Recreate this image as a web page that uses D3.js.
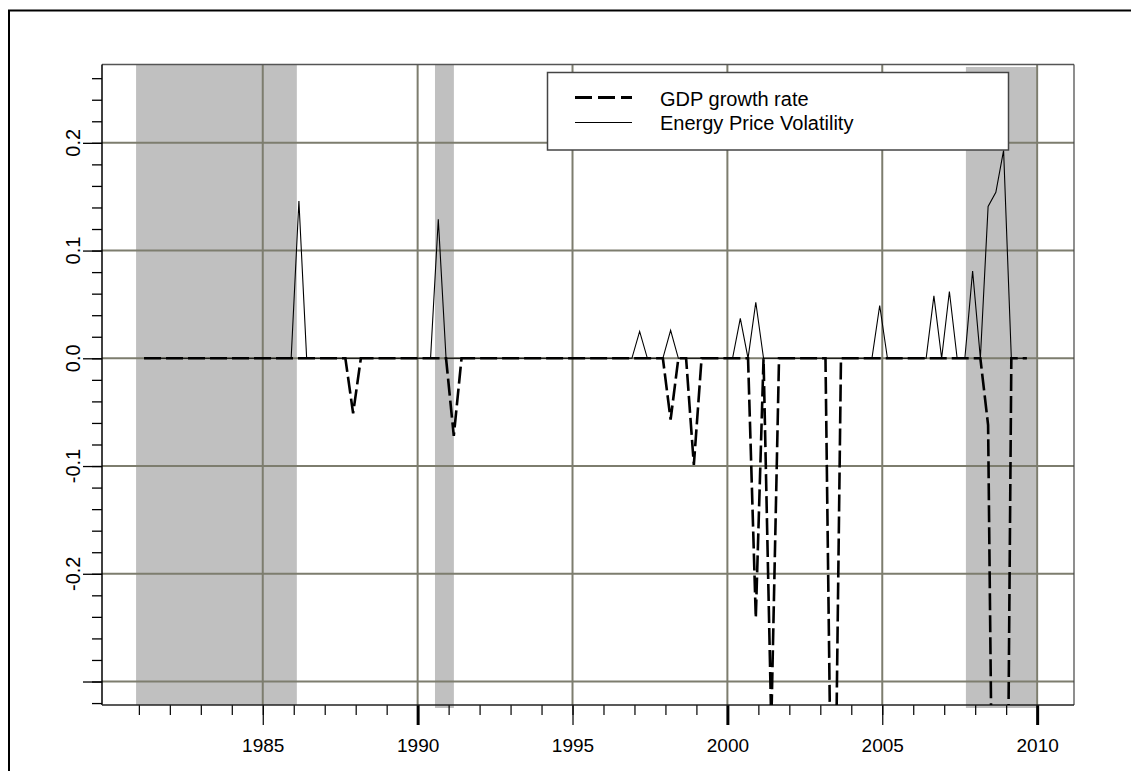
<!DOCTYPE html>
<html>
<head>
<meta charset="utf-8">
<script src="https://cdn.jsdelivr.net/npm/d3@7"></script>
<style>
  html, body { margin: 0; padding: 0; background: #fff; }
  svg { display: block; }
  text { font-family: "Liberation Sans", Arial, sans-serif; fill: #000; }
</style>
</head>
<body>
<svg id="chart" width="1131" height="771"></svg>
<script>
// ---------------- DATA ----------------
const years = [1981,1982,1983,1984,1985,1986,1987,1988,1989,1990,1991,1992,1993,1994,1995,
               1996,1997,1998,1999,2000,2001,2002,2003,2004,2005,2006,2007,2008,2009];
const quartersInLastYear = 3; // series end at 2009Q3

// GDP growth rate (quarterly, Q1..Q4 per year)
const gdpGrowth = [
  0,0,0,0,            // 1981
  0,0,0,0,            // 1982
  0,0,0,0,            // 1983
  0,0,0,0,            // 1984
  0,0,0,0,            // 1985
  0,0,0,0,            // 1986
  0,0,0,-0.051,       // 1987
  0,0,0,0,            // 1988
  0,0,0,0,            // 1989
  0,0,0,0,            // 1990
  -0.072,0,0,0,       // 1991
  0,0,0,0,            // 1992
  0,0,0,0,            // 1993
  0,0,0,0,            // 1994
  0,0,0,0,            // 1995
  0,0,0,0,            // 1996
  0,0,0,0,            // 1997
  -0.057,0,0,-0.099,  // 1998
  0,0,0,0,            // 1999
  0,0,0,-0.241,       // 2000
  0,-0.34,0,0,        // 2001
  0,0,0,0,            // 2002
  0,-0.58,0,0,        // 2003
  0,0,0,0,            // 2004
  0,0,0,0,            // 2005
  0,0,0,0,            // 2006
  0,0,0,0,            // 2007
  0,-0.062,-0.75,-0.90, // 2008
  0,0,0               // 2009
];

// Energy price volatility (quarterly)
const energyVol = [
  0,0,0,0,            // 1981
  0,0,0,0,            // 1982
  0,0,0,0,            // 1983
  0,0,0,0,            // 1984
  0,0,0,0,            // 1985
  0.146,0,0,0,        // 1986
  0,0,0,0,            // 1987
  0,0,0,0,            // 1988
  0,0,0,0,            // 1989
  0,0,0.129,0,        // 1990
  0,0,0,0,            // 1991
  0,0,0,0,            // 1992
  0,0,0,0,            // 1993
  0,0,0,0,            // 1994
  0,0,0,0,            // 1995
  0,0,0,0,            // 1996
  0.025,0,0,0,        // 1997
  0.026,0,0,0,        // 1998
  0,0,0,0,            // 1999
  0,0.037,0,0.052,    // 2000
  0,0,0,0,            // 2001
  0,0,0,0,            // 2002
  0,0,0,0,            // 2003
  0,0,0,0.049,        // 2004
  0,0,0,0,            // 2005
  0,0,0.058,0,        // 2006
  0.062,0,0,0.081,    // 2007
  0,0.141,0.154,0.193,// 2008
  0,0,0               // 2009
];

// shaded periods (decimal years)
const bandStart = [1980.91, 1990.56, 2007.70];
const bandEnd   = [1986.10, 1991.17, 2009.98];

const xTickYears  = [1985, 1990, 1995, 2000, 2005, 2010];
const xTickLabels = ["1985", "1990", "1995", "2000", "2005", "2010"];
const xMinorYears = d3.range(1981, 2011);
const yGridValues = [-0.3, -0.2, -0.1, 0.0, 0.1, 0.2];
const yTickValues = [-0.2, -0.1, 0.0, 0.1, 0.2];
const yTickLabels = ["-0.2", "-0.1", "0.0", "0.1", "0.2"];
const yMinorValues = d3.range(-16, 14).map(i => +(i * 0.02).toFixed(2));

const seriesNames = ["GDP growth rate", "Energy Price Volatility"];

// ---------------- BUILD ----------------
const quarters = [];
years.forEach((yr, i) => {
  const nq = (i === years.length - 1) ? quartersInLastYear : 4;
  for (let q = 1; q <= nq; q++) quarters.push({ year: yr, q: q, t: yr + (q - 1) / 4 + 0.167 });
});

const svg = d3.select("#chart");
const W = 1131, H = 771;
const L = 102, R = 1074, T = 64.5, B = 705;

const x = d3.scaleLinear().domain([1979.81, 2011.19]).range([L, R]);
const y = d3.scaleLinear().domain([-0.3218, 0.2727]).range([B, T]);

svg.append("rect").attr("width", W).attr("height", H).attr("fill", "#fff");

// outer frame
svg.append("rect").attr("x", 9).attr("y", 10.5).attr("width", 1200).attr("height", 900)
  .attr("fill", "none").attr("stroke", "#000").attr("stroke-width", 2);

// bands
svg.append("g").selectAll("rect").data(bandStart).join("rect")
  .attr("x", (d) => x(d))
  .attr("width", (d, i) => x(bandEnd[i]) - x(d))
  .attr("y", (d, i) => i === 2 ? T + 2.5 : T)
  .attr("height", (d, i) => (i === 0 ? B : B + 3) - (i === 2 ? T + 2.5 : T))
  .attr("fill", "#c0c0c0");

// grid
const grid = svg.append("g").attr("stroke", "#7d7d6e").attr("stroke-width", 2);
grid.selectAll("line.h").data(yGridValues).join("line")
  .attr("x1", L).attr("x2", R).attr("y1", d => y(d)).attr("y2", d => y(d));
grid.selectAll("line.v").data(xTickYears).join("line")
  .attr("y1", T).attr("y2", B).attr("x1", d => x(d)).attr("x2", d => x(d));

// plot frame
svg.append("line").attr("x1", L).attr("x2", R).attr("y1", T).attr("y2", T).attr("stroke", "#555").attr("stroke-width", 1.5);
svg.append("line").attr("x1", R).attr("x2", R).attr("y1", T).attr("y2", B).attr("stroke", "#444").attr("stroke-width", 1.2);

// y axis
const yMinorAxis = d3.axisLeft(y).tickValues(yMinorValues).tickSize(10).tickFormat("");
const gyMinor = svg.append("g").attr("transform", `translate(${L},0)`).call(yMinorAxis);
const yMajorAxis = d3.axisLeft(y).tickValues(yGridValues).tickSize(19).tickFormat("");
const gyMajor = svg.append("g").attr("transform", `translate(${L},0)`).call(yMajorAxis);
[gyMinor, gyMajor].forEach(g => {
  g.select(".domain").remove();
  g.selectAll(".tick line").attr("stroke", "#000").attr("stroke-width", 1.3);
});
svg.append("line").attr("x1", L).attr("x2", L).attr("y1", T).attr("y2", B).attr("stroke", "#000").attr("stroke-width", 1.5);

svg.append("g").selectAll("text").data(yTickValues).join("text")
  .attr("transform", d => `translate(80,${y(d)}) rotate(-90)`)
  .attr("text-anchor", "middle")
  .style("font-size", "20px")
  .text((d, i) => yTickLabels[i]);

// x axis
const xMinorAxis = d3.axisBottom(x).tickValues(xMinorYears).tickSize(10).tickFormat("");
const gxMinor = svg.append("g").attr("transform", `translate(0,${B})`).call(xMinorAxis);
gxMinor.select(".domain").remove();
gxMinor.selectAll(".tick line").attr("stroke", "#000").attr("stroke-width", 1.2);

const xMajorAxis = d3.axisBottom(x).tickValues(xTickYears).tickSize(20).tickFormat((d, i) => xTickLabels[i]);
const gxMajor = svg.append("g").attr("transform", `translate(0,${B})`).call(xMajorAxis);
gxMajor.select(".domain").remove();
gxMajor.selectAll(".tick line")
  .attr("stroke", "#000")
  .attr("stroke-width", d => (d % 10 === 0) ? 3 : 1.2);
gxMajor.selectAll(".tick text")
  .attr("y", 47).attr("dy", 0)
  .style("font-size", "19px")
  .style("font-family", "'Liberation Sans', Arial, sans-serif")
  .attr("fill", "#000");

svg.append("line").attr("x1", L).attr("x2", R).attr("y1", B).attr("y2", B).attr("stroke", "#222").attr("stroke-width", 1.5);

// clip
svg.append("clipPath").attr("id", "plotclip")
  .append("rect").attr("x", L).attr("y", T).attr("width", R - L).attr("height", B - T);

const lineGen = d3.line().x((d, i) => x(quarters[i].t)).y(d => y(d));
const series = svg.append("g").attr("clip-path", "url(#plotclip)");

series.append("path").datum(energyVol)
  .attr("d", lineGen)
  .attr("fill", "none").attr("stroke", "#000").attr("stroke-width", 1.1);

series.append("path").datum(gdpGrowth)
  .attr("d", lineGen)
  .attr("fill", "none").attr("stroke", "#000").attr("stroke-width", 2.6)
  .attr("stroke-dasharray", "17,5");

// legend
const lg = svg.append("g");
lg.append("rect").attr("x", 547.5).attr("y", 72.5).attr("width", 461).attr("height", 77.5)
  .attr("fill", "#fff").attr("stroke", "#444").attr("stroke-width", 1.5);
lg.append("line").attr("x1", 575).attr("x2", 632).attr("y1", 97.5).attr("y2", 97.5)
  .attr("stroke", "#000").attr("stroke-width", 2.8).attr("stroke-dasharray", "17,6");
lg.append("line").attr("x1", 575).attr("x2", 632).attr("y1", 122.5).attr("y2", 122.5)
  .attr("stroke", "#000").attr("stroke-width", 1.1);
lg.append("text").attr("x", 660).attr("y", 106).style("font-size", "20px").text(seriesNames[0]);
lg.append("text").attr("x", 660).attr("y", 130).style("font-size", "20px").text(seriesNames[1]);
</script>
</body>
</html>
